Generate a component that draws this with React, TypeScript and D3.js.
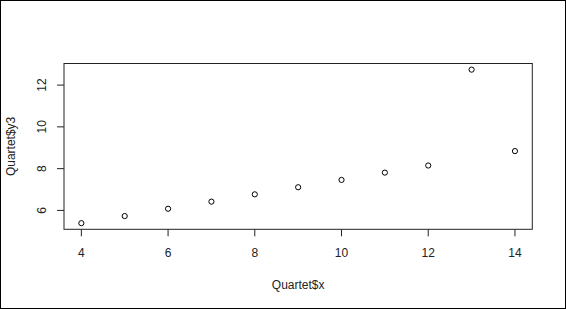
import React from "react";
import * as d3 from "d3";

const xValues = [10, 8, 13, 9, 11, 14, 6, 4, 12, 7, 5];
const y3Values = [7.46, 6.77, 12.74, 7.11, 7.81, 8.84, 6.08, 5.39, 8.15, 6.42, 5.73];
const xTicks = [4, 6, 8, 10, 12, 14];
const yTicks = [6, 8, 10, 12];

const W = 566;
const H = 309;
const left = 64, right = 532.3, top = 63.5, bottom = 229.3;

export default function App() {
  const xmin = d3.min(xValues)!, xmax = d3.max(xValues)!;
  const ymin = d3.min(y3Values)!, ymax = d3.max(y3Values)!;
  const xp = (xmax - xmin) * 0.04, yp = (ymax - ymin) * 0.04;
  const x = d3.scaleLinear().domain([xmin - xp, xmax + xp]).range([left, right]);
  const y = d3.scaleLinear().domain([ymin - yp, ymax + yp]).range([bottom, top]);
  const font = "Liberation Sans, Arial, sans-serif";
  return (
    <svg width={W} height={H} style={{ position: "fixed", left: 0, top: 0, background: "#fff" }}
      fontFamily={font} fontSize={12}>
      <rect x={0.5} y={0.5} width={W - 1} height={H - 1} fill="#fff" stroke="#000" strokeWidth={1} />
      <rect x={left} y={top} width={right - left} height={bottom - top} fill="none" stroke="#222" strokeWidth={1} />
      {xTicks.map(t => (
        <g key={"x" + t}>
          <line x1={x(t)} x2={x(t)} y1={bottom} y2={bottom + 7} stroke="#222" />
          <text x={x(t)} y={bottom + 28} textAnchor="middle" fill="#222">{t}</text>
        </g>
      ))}
      {yTicks.map(t => (
        <g key={"y" + t}>
          <line x1={left} x2={left - 7} y1={y(t)} y2={y(t)} stroke="#222" />
          <text transform={`translate(${left - 18},${y(t)}) rotate(-90)`} textAnchor="middle" fill="#222">{t}</text>
        </g>
      ))}
      {xValues.map((v, i) => (
        <circle key={i} cx={x(v)} cy={y(y3Values[i])} r={2.6} fill="none" stroke="#000" strokeWidth={1} />
      ))}
      <text x={(left + right) / 2} y={289} textAnchor="middle" fill="#222">Quartet$x</text>
      <text transform={`translate(15,${(top + bottom) / 2}) rotate(-90)`} textAnchor="middle" fill="#222">Quartet$y3</text>
    </svg>
  );
}
